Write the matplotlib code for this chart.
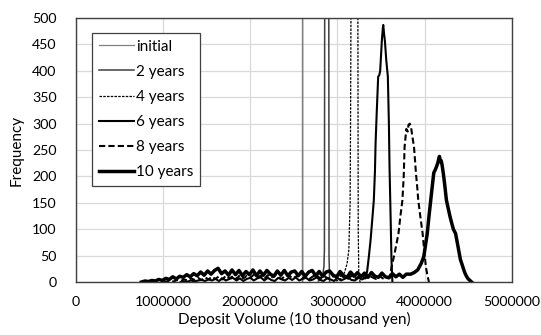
"""Deposit volume distribution over time (histogram lines)."""
import matplotlib
matplotlib.use("Agg")
import matplotlib.pyplot as plt
import numpy as np

plt.rcParams["font.family"] = ["Lato", "DejaVu Sans"]

# ── data (deposit volume in 10 thousand yen, frequency) ─────────────────
init_x = [2597000, 2600000, 2603000]
init_y = [0, 1500, 0]

y2_x = [2780000, 2810000, 2830000, 2845000, 2850000, 2854000, 2860000,
        2895000, 2900000, 2903000, 2910000]
y2_y = [2, 5, 12, 30, 60, 600, 1500, 1500, 600, 50, 0]

y4_x = [2980000, 3020000, 3050000, 3080000, 3110000, 3130000, 3145000,
        3150000, 3157000, 3165000, 3225000, 3233000, 3238000, 3245000,
        3260000]
y4_y = [2, 4, 8, 18, 35, 60, 150, 300, 600, 1500, 1500, 600, 100, 10, 0]

# low-level tails (start, bin step, counts)
y6_tail_start, y6_tail_step = 1200000, 40000
y6_tail = [0, 1, 1, 3, 1, 3, 4, 2, 5, 3, 6, 2, 7, 3, 6, 8, 3, 7, 2, 6,
           8, 3, 7, 9, 3, 8, 4, 2, 8, 5, 3, 8, 4, 9, 3, 6, 8, 3, 5, 9,
           4, 2, 7, 5, 2, 8, 3, 6, 9, 4, 3, 8, 5]
y6_x = [3320000, 3340000, 3360000, 3380000, 3400000, 3417000, 3430000,
        3437000, 3450000, 3467000, 3480000, 3490000, 3500000, 3510000,
        3520000, 3525000, 3535000, 3545000, 3560000, 3578000, 3590000,
        3597000, 3610000, 3620000, 3630000]
y6_y = [8, 20, 48, 80, 120, 155, 210, 262, 320, 389, 392, 400, 430, 460,
        480, 487, 470, 455, 420, 389, 300, 220, 120, 40, 0]

y8_tail_start, y8_tail_step = 1000000, 40000
y8_tail = [0, 1, 3, 1, 4, 2, 5, 3, 7, 4, 8, 4, 9, 5, 10, 6, 11, 5, 12, 7,
           11, 6, 13, 7, 12, 8, 14, 9, 12, 6, 13, 8, 14, 9, 6, 12, 14, 7, 10, 13,
           7, 12, 6, 11, 13, 7, 12, 8, 6, 12, 7, 13, 9, 6, 12, 7, 10, 13, 7, 12,
           9, 6, 12, 7, 10]
y8_x = [3600000, 3620000, 3650000, 3680000, 3700000, 3720000, 3745000,
        3760000, 3770000, 3790000, 3805000, 3815000, 3830000, 3845000,
        3860000, 3878000, 3890000, 3900000, 3915000, 3927000, 3950000,
        3977000, 3995000, 4015000, 4035000, 4050000]
y8_y = [10, 28, 50, 75, 92, 122, 155, 200, 256, 290, 285, 298, 300, 292,
        275, 256, 230, 207, 180, 155, 125, 92, 60, 28, 10, 0]

y10_tail_start, y10_tail_step = 750000, 40000
y10_tail = [0, 2, 1, 3, 2, 5, 3, 7, 5, 10, 6, 11, 9, 14, 10, 16,
            12, 19, 13, 21, 15, 22, 26, 16, 21, 13, 23, 14, 22, 12, 20,
            14, 23, 12, 21, 13, 22, 15, 11, 21, 13, 22, 12, 19, 21, 12, 20,
            11, 19, 22, 12, 20, 11, 19, 21, 13, 10, 20, 12, 9, 19, 11, 18,
            10, 17, 9, 18, 11, 9, 17, 10, 8, 16, 10, 15, 9, 15]
y10_x = [3840000, 3880000, 3920000, 3960000, 3990000, 4010000, 4030000,
         4050000, 4070000, 4090000, 4105000, 4120000, 4135000, 4150000,
         4160000, 4170000, 4180000, 4190000, 4200000, 4215000, 4230000,
         4250000, 4270000, 4290000, 4310000, 4330000, 4355000, 4380000,
         4410000, 4440000, 4460000, 4480000, 4500000, 4520000, 4540000]
y10_y = [15, 18, 23, 35, 48, 70, 92, 125, 155, 185, 207, 212, 218, 225,
         232, 238, 228, 230, 222, 205, 185, 155, 140, 125, 112, 100, 92, 70,
         43, 28, 18, 11, 6, 3, 0]

x_ticks = [0, 1000000, 2000000, 3000000, 4000000, 5000000]
y_ticks = [0, 50, 100, 150, 200, 250, 300, 350, 400, 450, 500]


def with_tail(start, step, counts, px, py):
    tx = start + step * np.arange(len(counts))
    return np.concatenate([tx, px]), np.concatenate([counts, py])


fig = plt.figure(figsize=(5.41, 3.35), dpi=100)
ax = fig.add_axes([0.1405, 0.158, 0.8055, 0.788])

x6, f6 = with_tail(y6_tail_start, y6_tail_step, y6_tail, y6_x, y6_y)
x8, f8 = with_tail(y8_tail_start, y8_tail_step, y8_tail, y8_x, y8_y)
x10, f10 = with_tail(y10_tail_start, y10_tail_step, y10_tail, y10_x, y10_y)

ax.plot(init_x, init_y, color="#808080", lw=0.9, label="initial")
ax.plot(y2_x, y2_y, color="#404040", lw=1.1, label="2 years")
ax.plot(y4_x, y4_y, color="black", lw=0.9, ls=(0, (2, 1)), label="4 years")
ax.plot(x6, f6, color="black", lw=1.5, label="6 years")
ax.plot(x8, f8, color="black", lw=1.5, ls=(0, (3, 1.5)), label="8 years")
ax.plot(x10, f10, color="black", lw=2.5, label="10 years")

ax.set_xlim(0, 5000000)
ax.set_ylim(0, 500)
ax.set_xticks(x_ticks)
ax.set_yticks(y_ticks)
ax.set_xticklabels([str(v) for v in x_ticks])
ax.grid(color="#d9d9d9", lw=0.9)
ax.set_axisbelow(True)
for s in ax.spines.values():
    s.set_color("#404040")
    s.set_linewidth(1.0)
ax.tick_params(axis="y", length=0, pad=14, labelsize=10.2, colors="black")
ax.tick_params(axis="x", length=0, pad=10, labelsize=10.2, colors="black")
ax.set_xlabel("Deposit Volume (10 thousand yen)", fontsize=11, labelpad=3)
ax.set_ylabel("Frequency", fontsize=11, labelpad=6)

leg = ax.legend(loc="upper left", bbox_to_anchor=(0.037, 0.943),
                borderaxespad=0, fontsize=11, fancybox=False, framealpha=1,
                edgecolor="#404040", handlelength=2.3, handletextpad=0.15,
                labelspacing=0.73, borderpad=0.42)
leg.get_frame().set_linewidth(0.9)

fig.savefig("out.png", dpi=100)
